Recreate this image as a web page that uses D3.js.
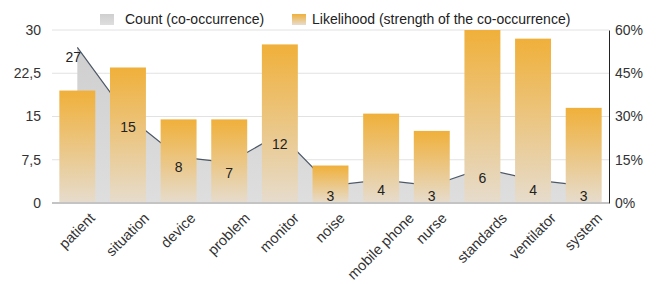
<!DOCTYPE html>
<html>
<head>
<meta charset="utf-8">
<script src="https://cdn.jsdelivr.net/npm/d3@7"></script>
<style>
  body { margin: 0; background: #fff; }
  svg { font-family: "Liberation Sans", Arial, sans-serif; }
</style>
</head>
<body>
<svg id="chart" width="662" height="284"></svg>
<script>
const categories = ["patient", "situation", "device", "problem", "monitor", "noise",
  "mobile phone", "nurse", "standards", "ventilator", "system"];
const countValues = [27, 15, 8, 7, 12, 3, 4, 3, 6, 4, 3];
const likelihoodValues = [39, 47, 29, 29, 55, 13, 31, 25, 60, 57, 33];
const leftTicks = [0, 7.5, 15, 22.5, 30];
const rightTicks = [0, 15, 30, 45, 60];

const svg = d3.select("#chart");
const margin = { top: 30, right: 53, bottom: 81, left: 52 };
const width = 662 - margin.left - margin.right;
const height = 284 - margin.top - margin.bottom;

const defs = svg.append("defs");
const barGrad = defs.append("linearGradient").attr("id", "barGrad")
  .attr("x1", 0).attr("y1", 0).attr("x2", 0).attr("y2", 1);
barGrad.append("stop").attr("offset", "0%").attr("stop-color", "#f0b03a");
barGrad.append("stop").attr("offset", "100%").attr("stop-color", "#e6dccd");
const areaGrad = defs.append("linearGradient").attr("id", "areaGrad")
  .attr("x1", 0).attr("y1", 0).attr("x2", 0).attr("y2", 1);
areaGrad.append("stop").attr("offset", "0%").attr("stop-color", "#cfcfcf");
areaGrad.append("stop").attr("offset", "100%").attr("stop-color", "#dedede");

const g = svg.append("g").attr("transform", `translate(${margin.left},${margin.top})`);

const x = d3.scaleBand().domain(categories).range([0, width]).paddingInner(0.29).paddingOuter(0.145);
const xc = d => x(d) + x.bandwidth() / 2;
const yL = d3.scaleLinear().domain([0, 30]).range([height, 0]);
const yR = d3.scaleLinear().domain([0, 60]).range([height, 0]);

// gridlines
g.append("g").selectAll("line").data(leftTicks.filter(d => d > 0)).join("line")
  .attr("x1", 0).attr("x2", width)
  .attr("y1", d => yL(d)).attr("y2", d => yL(d))
  .attr("stroke", "#e2e2e2").attr("stroke-width", 1);

// count area + line
const pts = categories.map((c, i) => [xc(c), countValues[i]]);
const area = d3.area().x(d => d[0]).y0(yL(0)).y1(d => yL(d[1]));
const line = d3.line().x(d => d[0]).y(d => yL(d[1]));
g.append("path").datum(pts).attr("d", area).attr("fill", "url(#areaGrad)");
g.append("path").datum(pts).attr("d", line).attr("fill", "none")
  .attr("stroke", "#4d5866").attr("stroke-width", 1.2);

// likelihood bars
g.append("g").selectAll("rect").data(likelihoodValues).join("rect")
  .attr("x", (d, i) => x(categories[i]))
  .attr("y", d => yR(d))
  .attr("width", x.bandwidth())
  .attr("height", d => height - yR(d))
  .attr("fill", "url(#barGrad)");

// baseline
g.append("line").attr("x1", 0).attr("x2", width).attr("y1", height).attr("y2", height)
  .attr("stroke", "#c4c4c4").attr("stroke-width", 2);

// count labels
g.append("g").selectAll("text").data(countValues).join("text")
  .attr("x", (d, i) => xc(categories[i]) - (i === 0 ? 4 : 0))
  .attr("y", d => yL(d) + 15)
  .attr("text-anchor", "middle")
  .attr("font-size", 14)
  .attr("fill", "#222")
  .text(d => d);

// left axis
const leftAxis = g.append("g")
  .call(d3.axisLeft(yL).tickValues(leftTicks).tickSize(0).tickPadding(11)
    .tickFormat(d => String(d).replace(".", ",")));
leftAxis.select(".domain").remove();
leftAxis.selectAll("text").attr("font-size", 14).attr("fill", "#333")
  .attr("font-family", "Liberation Sans, Arial, sans-serif");

// right axis
const rightAxis = g.append("g").attr("transform", `translate(${width},0)`)
  .call(d3.axisRight(yR).tickValues(rightTicks).tickSize(0).tickPadding(6)
    .tickFormat(d => d + "%"));
rightAxis.select(".domain").attr("stroke", "#222").attr("stroke-width", 1);
rightAxis.selectAll("text").attr("font-size", 14).attr("fill", "#333")
  .attr("font-family", "Liberation Sans, Arial, sans-serif");

// x labels: rotated, box centred under each category
const xAxis = g.append("g").attr("transform", `translate(0,${height})`)
  .call(d3.axisBottom(x).tickSize(0).tickPadding(0));
xAxis.select(".domain").remove();
xAxis.selectAll("text")
  .attr("font-size", 14.5).attr("fill", "#333")
  .attr("font-family", "Liberation Sans, Arial, sans-serif")
  .attr("text-anchor", "end")
  .attr("dy", 0)
  .attr("transform", function () {
    const len = this.getComputedTextLength();
    return `translate(${len * 0.354 + 3},16) rotate(-45)`;
  });

// legend
const legend = svg.append("g").attr("transform", "translate(100,14)");
const items = [
  { label: "Count (co-occurrence)", fill: "url(#areaGrad)", x: 0, gap: 25 },
  { label: "Likelihood (strength of the co-occurrence)", fill: "url(#barGrad)", x: 192, gap: 20 }
];
items.forEach(it => {
  const li = legend.append("g").attr("transform", `translate(${it.x},0)`);
  li.append("rect").attr("width", 14).attr("height", 11).attr("fill", it.fill);
  li.append("text").attr("x", it.gap).attr("y", 10).attr("font-size", 14).attr("fill", "#222")
    .text(it.label);
});
</script>
</body>
</html>
